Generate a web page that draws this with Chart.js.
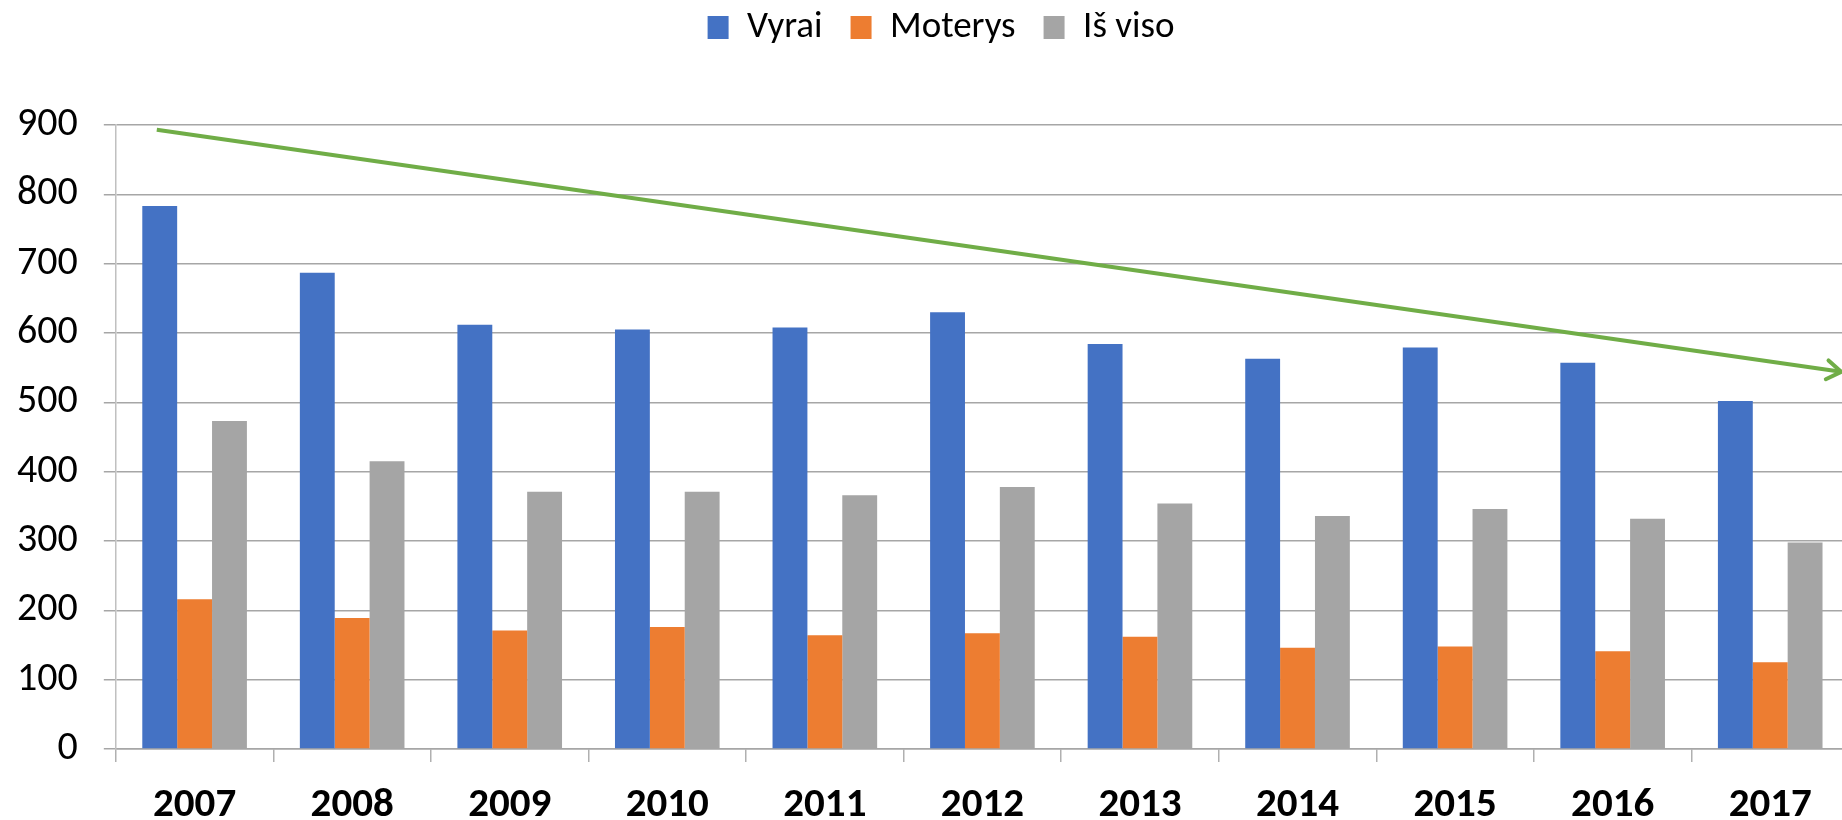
<!DOCTYPE html>
<html>
<head>
<meta charset="utf-8">
<script src="https://cdn.jsdelivr.net/npm/chart.js@4"></script>
<style>
  html, body { margin: 0; padding: 0; background: #fff; overflow: hidden; }
  #wrap { width: 1849px; height: 820px; }
</style>
</head>
<body>
<div id="wrap"><canvas id="chart"></canvas></div>
<script>
const years = ["2007", "2008", "2009", "2010", "2011", "2012", "2013", "2014", "2015", "2016", "2017"];
const vyrai = [783, 687, 612, 605, 608, 630, 584, 563, 579, 557, 502];
const moterys = [216, 189, 171, 176, 164, 167, 162, 146, 148, 141, 125];
const isViso = [473, 415, 371, 371, 366, 378, 354, 336, 346, 332, 298];
const seriesNames = ["Vyrai", "Moterys", "Iš viso"];
const seriesColors = ["#4472c4", "#ed7d31", "#a5a5a5"];
const yTicks = [0, 100, 200, 300, 400, 500, 600, 700, 800, 900];
// trend arrow: position in category index units and value
const trendX = [-0.24, 10.45];
const trendY = [893, 544];

const fontFamily = "Carlito, Calibri, Lato, sans-serif";

// draws the open arrow head at the end of the trend line
const arrowHead = {
  id: "arrowHead",
  afterDatasetsDraw(chart) {
    const meta = chart.getDatasetMeta(3);
    if (!meta || meta.data.length < 2) return;
    const a = meta.data[meta.data.length - 2];
    const b = meta.data[meta.data.length - 1];
    const ang = Math.atan2(b.y - a.y, b.x - a.x);
    const len = 17, spread = Math.PI * 34 / 180;
    const ctx = chart.ctx;
    ctx.save();
    ctx.strokeStyle = "#70ad47";
    ctx.lineWidth = 4;
    ctx.lineCap = "round";
    ctx.lineJoin = "round";
    ctx.beginPath();
    ctx.moveTo(b.x - len * Math.cos(ang - spread), b.y - len * Math.sin(ang - spread));
    ctx.lineTo(b.x, b.y);
    ctx.lineTo(b.x - len * Math.cos(ang + spread), b.y - len * Math.sin(ang + spread));
    ctx.stroke();
    ctx.restore();
  }
};

// the legend in the original sits a little right of the page centre
const legendShift = {
  id: "legendShift",
  afterLayout(chart) {
    if (!chart.legend) return;
    chart.legend.left += 21;
    chart.legend.right += 21;
  }
};

const barSets = [vyrai, moterys, isViso].map((vals, i) => ({
  label: seriesNames[i],
  data: vals,
  backgroundColor: seriesColors[i],
  categoryPercentage: 0.664,
  barPercentage: 1.0,
  order: 2
}));

new Chart(document.getElementById("chart"), {
  type: "bar",
  data: {
    labels: years,
    datasets: [
      ...barSets,
      {
        type: "line",
        label: "trend",
        parsing: false,
        data: trendX.map((x, i) => ({ x: x, y: trendY[i] })),
        borderColor: "#70ad47",
        borderWidth: 4,
        pointRadius: 0,
        fill: false,
        order: 1
      }
    ]
  },
  options: {
    responsive: true,
    maintainAspectRatio: false,
    animation: false,
    layout: { padding: { top: -19, left: -9, right: 0, bottom: 0 } },
    plugins: {
      legend: {
        position: "top",
        labels: {
          filter: item => item.datasetIndex < 3,
          boxWidth: 21,
          boxHeight: 23,
          padding: 28,
          color: "#000",
          font: { family: fontFamily, size: 37 }
        }
      },
      title: {
        display: true,
        text: "",
        weight: 500,
        font: { size: 10, lineHeight: 1 },
        padding: { top: 0, bottom: 59 }
      },
      tooltip: { enabled: false }
    },
    scales: {
      x: {
        type: "category",
        offset: true,
        afterFit: scale => { scale.height = 71; },
        grid: {
          offset: true,
          drawOnChartArea: false,
          drawTicks: true,
          tickLength: 13,
          color: "#b0b0b0",
          lineWidth: 1.5
        },
        border: { display: true, color: "#a6a6a6", width: 1.5 },
        ticks: {
          color: "#000",
          padding: 19,
          maxRotation: 0,
          font: { family: fontFamily, size: 41, weight: "bold" }
        }
      },
      y: {
        min: 0,
        max: 900,
        afterBuildTicks: scale => { scale.ticks = yTicks.map(v => ({ value: v })); },
        grid: {
          color: "#a6a6a6",
          lineWidth: 1.5,
          tickLength: 12
        },
        border: { display: true, color: "#c0c0c0", width: 1.5 },
        ticks: {
          color: "#000",
          padding: 26,
          font: { family: fontFamily, size: 40 }
        }
      }
    }
  },
  plugins: [arrowHead, legendShift]
});
</script>
</body>
</html>
